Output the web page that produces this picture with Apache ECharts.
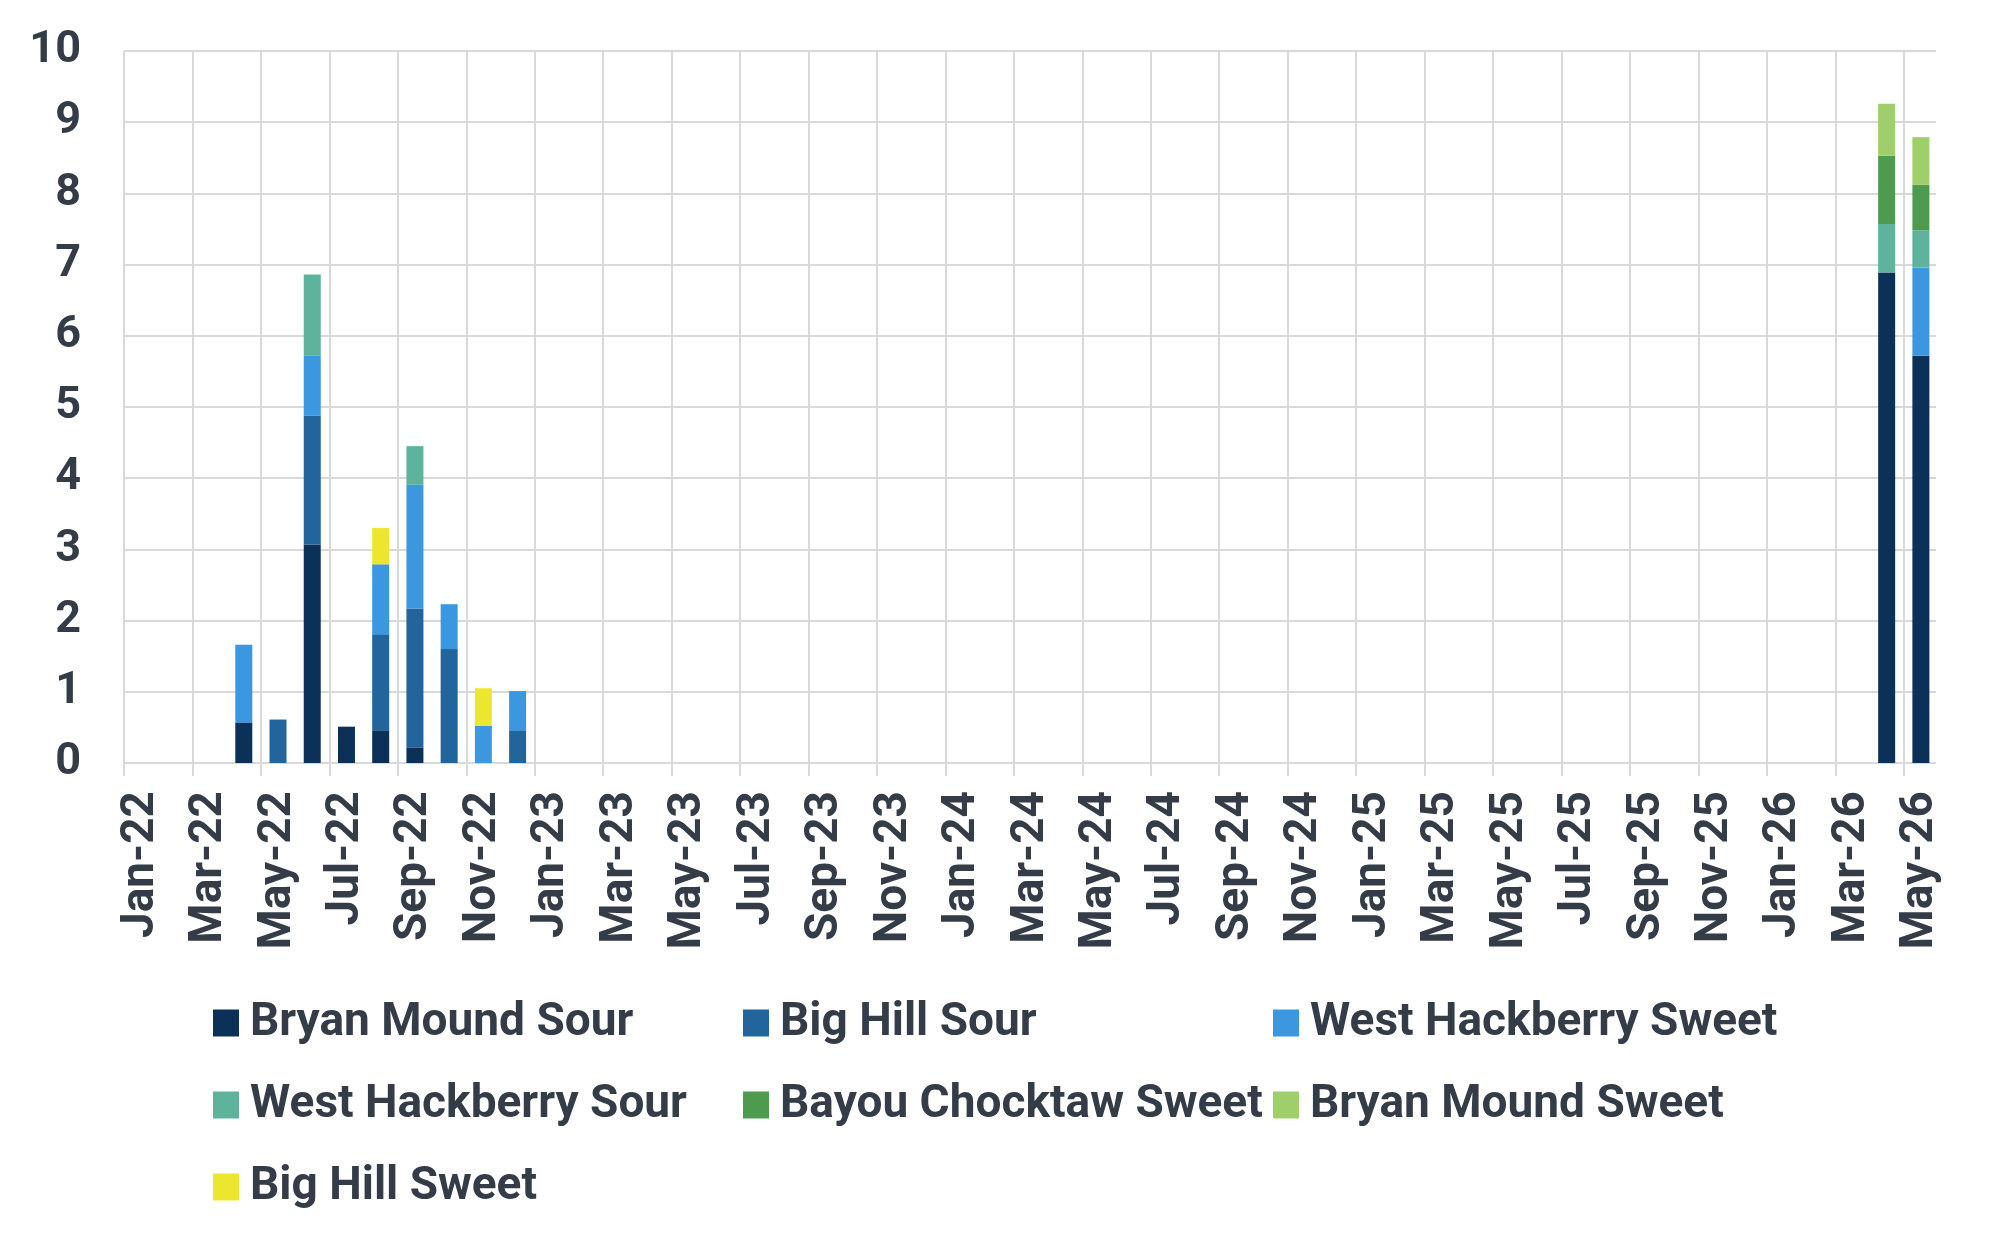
<!DOCTYPE html>
<html>
<head>
<meta charset="utf-8">
<script src="https://cdn.jsdelivr.net/npm/echarts@6/dist/echarts.min.js"></script>
<style>
  html, body { margin: 0; padding: 0; background: #fff; }
  #chart { width: 1989px; height: 1247px; }
</style>
</head>
<body>
<div id="chart"></div>
<script>
// x axis categories (monthly)
const categories = [
  'Jan-22','Feb-22','Mar-22','Apr-22','May-22','Jun-22','Jul-22','Aug-22','Sep-22','Oct-22','Nov-22','Dec-22',
  'Jan-23','Feb-23','Mar-23','Apr-23','May-23','Jun-23','Jul-23','Aug-23','Sep-23','Oct-23','Nov-23','Dec-23',
  'Jan-24','Feb-24','Mar-24','Apr-24','May-24','Jun-24','Jul-24','Aug-24','Sep-24','Oct-24','Nov-24','Dec-24',
  'Jan-25','Feb-25','Mar-25','Apr-25','May-25','Jun-25','Jul-25','Aug-25','Sep-25','Oct-25','Nov-25','Dec-25',
  'Jan-26','Feb-26','Mar-26','Apr-26','May-26'
];

// months that have volumes; every other month is empty
const activeMonths = ['Apr-22','May-22','Jun-22','Jul-22','Aug-22','Sep-22','Oct-22','Nov-22','Dec-22','Apr-26','May-26'];

const bryanMoundSour      = [0.57, null, 3.07, 0.51, 0.46, 0.22, null, null, null, 6.89, 5.72];
const bigHillSour         = [null, 0.61, 1.81, null, 1.35, 1.95, 1.60, null, 0.46, null, null];
const westHackberrySweet  = [1.09, null, 0.84, null, 0.98, 1.74, 0.63, 0.52, 0.55, null, 1.24];
const westHackberrySour   = [null, null, 1.14, null, null, 0.54, null, null, null, 0.68, 0.52];
const bayouChocktawSweet  = [null, null, null, null, null, null, null, null, null, 0.96, 0.64];
const bryanMoundSweet     = [null, null, null, null, null, null, null, null, null, 0.73, 0.67];
const bigHillSweet        = [null, null, null, null, 0.51, null, null, 0.53, null, null, null];

const seriesNames = [
  'Bryan Mound Sour', 'Big Hill Sour', 'West Hackberry Sweet',
  'West Hackberry Sour', 'Bayou Chocktaw Sweet', 'Bryan Mound Sweet',
  'Big Hill Sweet'
];
const seriesValues = [
  bryanMoundSour, bigHillSour, westHackberrySweet,
  westHackberrySour, bayouChocktawSweet, bryanMoundSweet, bigHillSweet
];
const colors = ['#0b3158', '#22649c', '#3a97e0', '#5db39b', '#4e9a4f', '#9fcf6a', '#ece72e'];

const textColor = '#343d47';
const gridColor = '#d9d9d9';
const fontFamily = 'Roboto, "Liberation Sans", sans-serif';

// spread the short value lists onto the full month axis
function toFull(values) {
  return categories.map(c => {
    const i = activeMonths.indexOf(c);
    return i < 0 ? null : values[i];
  });
}

const series = seriesNames.map((name, i) => ({
  name: name,
  type: 'bar',
  stack: 'total',
  barWidth: 17,
  itemStyle: { color: colors[i] },
  data: toFull(seriesValues[i])
}));

// legend: three fixed columns
const legends = seriesNames.map((name, i) => ({
  data: [name],
  left: 213 + (i % 3) * 530,
  top: 1000 + Math.floor(i / 3) * 82,
  padding: 0,
  itemWidth: 26,
  itemHeight: 27,
  itemGap: 0,
  icon: 'rect',
  selectedMode: false,
  textStyle: {
    color: textColor,
    fontSize: 46,
    fontWeight: 'bold',
    fontFamily: fontFamily,
    padding: [0, 0, 0, 6]
  }
}));

const chart = echarts.init(document.getElementById('chart'));
chart.setOption({
  animation: false,
  color: colors,
  grid: { left: 124, right: 51, top: 51, bottom: 484, containLabel: false },
  legend: legends,
  // the reference has no grid line on the right edge; mask the closing one
  graphic: [{
    type: 'rect',
    z: 100,
    shape: { x: 1936, y: 40, width: 8, height: 750 },
    style: { fill: '#fff' }
  }],
  xAxis: {
    type: 'category',
    data: categories,
    axisLine: { show: true, lineStyle: { color: gridColor, width: 2 } },
    axisTick: { show: true, interval: 1, length: 13, lineStyle: { color: gridColor, width: 2 } },
    splitLine: { show: true, interval: 1, lineStyle: { color: gridColor, width: 2 } },
    axisLabel: {
      interval: 1,
      rotate: 90,
      margin: 28,
      color: textColor,
      fontSize: 46,
      fontWeight: 'bold',
      fontFamily: fontFamily
    }
  },
  yAxis: {
    type: 'value',
    min: 0,
    max: 10,
    interval: 1,
    axisLine: { show: false },
    axisTick: { show: false },
    splitLine: { show: true, lineStyle: { color: gridColor, width: 2 } },
    axisLabel: {
      margin: 43,
      color: textColor,
      fontSize: 45,
      fontWeight: 'bold',
      fontFamily: fontFamily
    }
  },
  series: series
});
</script>
</body>
</html>
